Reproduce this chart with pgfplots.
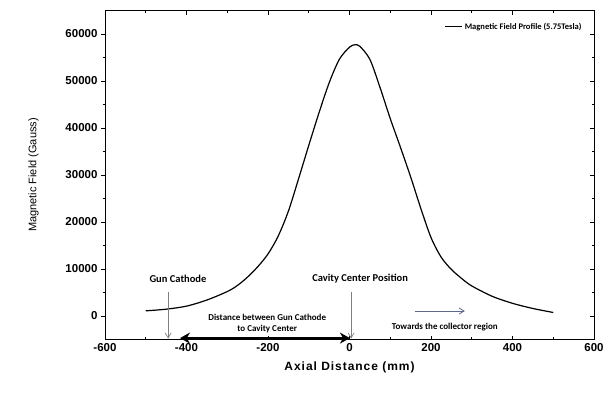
\documentclass[border=0pt]{standalone}
\usepackage{pgfplots}
\pgfplotsset{compat=1.18}
\usepackage{fontspec}
\setmainfont{Liberation Sans}
\newfontfamily\calfont{Carlito}
\usetikzlibrary{arrows.meta}
\definecolor{slate}{RGB}{95,105,140}
\pgfplotsset{
  common/.style={
    scale only axis,
    width=489pt, height=329pt,
    xmin=-600, xmax=600, ymin=-5000, ymax=65000,
    xtick={-600,-400,...,600},
    ytick={0,10000,...,60000},
    minor x tick num=1, minor y tick num=1,
    scaled y ticks=false,
    /pgf/number format/1000 sep={},
    /pgf/number format/assume math mode=true,
    tick label style={font=\fontsize{11.5}{13}\selectfont\bfseries},
    major tick length=4pt, minor tick length=2.5pt,
    every tick/.style={line width=0.8pt, black},
  }
}
\begin{document}
\begin{tikzpicture}
\path ([shift={(-105pt,-54.5pt)}]0,0) rectangle ([shift={(15pt,10.5pt)}]489pt,329pt);
\begin{axis}[
  common,
  at={(0,0)}, anchor=south west,
  axis lines=box,
  tick align=inside,
  xtick pos=both, ytick pos=right,
  yticklabels={},
  axis line style={line width=1pt},
  xlabel={\addfontfeature{LetterSpace=8}Axial Distance (mm)},
  xlabel style={font=\fontsize{12}{14}\selectfont\bfseries, yshift=-4pt},
  legend style={draw=none, fill=none, at={(0.985,0.975)}, anchor=north east,
    font=\calfont\fontsize{8.5}{10}\selectfont\bfseries},
  legend cell align=left,
  clip=false,
]
\addplot[black, line width=1.2pt, smooth] coordinates {
(-500,1100) (-450,1450) (-400,2100) (-350,3400) (-300,5200) (-275,6500)
(-250,8300) (-225,10500) (-200,13200) (-175,17000) (-150,22300) (-125,29200)
(-100,36300) (-75,43200) (-50,49600) (-25,54600) (0,57200) (13,57700)
(25,57400) (50,54600) (75,48600) (100,42000) (125,35900) (150,29600)
(175,22900) (200,16700) (225,12500) (250,9900) (275,8000) (300,6400)
(350,4200) (400,2700) (450,1600) (500,750)
};
\addlegendentry{Magnetic Field Profile (5.75Tesla)}

\draw[black, line width=1pt] (rel axis cs:0,0) rectangle (rel axis cs:1,1);
\node[font=\calfont\fontsize{10.5}{12}\selectfont\bfseries] at (axis cs:-421,7900) {Gun Cathode};
\node[font=\calfont\fontsize{10.5}{12}\selectfont\bfseries] at (axis cs:26,7900) {Cavity Center Position};
\draw[gray, line width=0.7pt, -{Straight Barb[length=5pt,width=6pt]}] (axis cs:-445,5100) -- (axis cs:-445,-4800);
\draw[gray, line width=0.7pt, -{Straight Barb[length=5pt,width=6pt]}] (axis cs:4,5100) -- (axis cs:4,-4800);
\draw[black, line width=2.2pt, {Stealth[length=10pt,width=11pt]}-{Stealth[length=10pt,width=11pt]}] (axis cs:-416,-4700) -- (axis cs:1,-4700);
\node[font=\calfont\fontsize{9}{11}\selectfont\bfseries, align=center, inner sep=0pt] at (axis cs:-202,-1500) {Distance between Gun Cathode\\to Cavity Center};
\draw[slate, line width=0.8pt, -{Straight Barb[length=5pt,width=6pt]}] (axis cs:161,1060) -- (axis cs:283,1060);
\node[font=\calfont\fontsize{9}{11}\selectfont\bfseries] at (axis cs:234,-2340) {Towards the collector region};
\end{axis}
\begin{axis}[
  common,
  at={(0,0)}, anchor=south west,
  tick align=outside,
  axis x line=none, axis y line*=left,
  axis line style={line width=1pt},
  ylabel={Magnetic Field (Gauss)},
  ylabel style={font=\fontsize{11}{13}\selectfont, yshift=20pt},
]
\end{axis}
\end{tikzpicture}
\end{document}
